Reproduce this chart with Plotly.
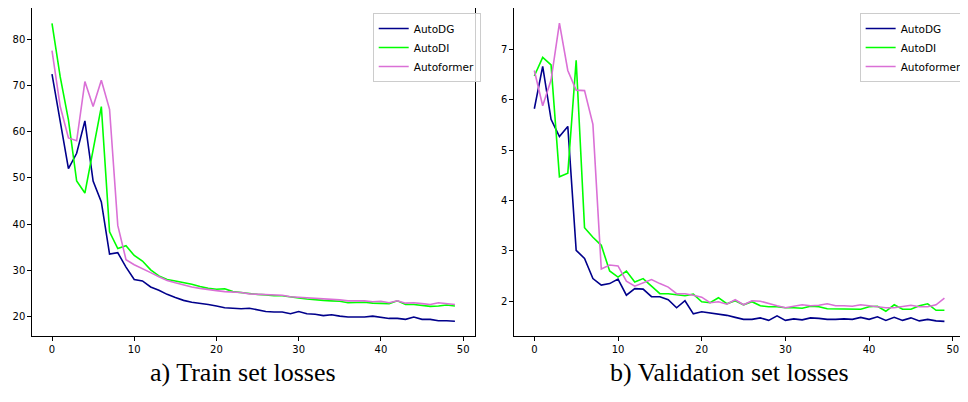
import plotly.graph_objects as go
from plotly.subplots import make_subplots

epochs = list(range(50))

train_autodg = [72.4, 62.2, 52.0, 55.3, 62.3, 49.3, 44.8, 33.5, 33.8, 30.7,
                28.0, 27.7, 26.4, 25.7, 24.8, 24.1, 23.5, 23.1, 22.9, 22.6,
                22.3, 21.9, 21.8, 21.7, 21.8, 21.4, 21.1, 21.0, 21.0, 20.6,
                21.1, 20.6, 20.5, 20.2, 20.4, 20.1, 19.9, 19.9, 19.9, 20.1,
                19.9, 19.6, 19.6, 19.4, 19.9, 19.4, 19.4, 19.1, 19.1, 19.0]
train_autodi = [83.4, 71.8, 62.5, 49.3, 46.7, 56.0, 65.4, 38.3, 34.7, 35.3,
                33.2, 32.0, 30.1, 28.8, 28.0, 27.7, 27.4, 27.0, 26.5, 26.1,
                25.9, 26.0, 25.4, 25.2, 24.9, 24.8, 24.7, 24.5, 24.5, 24.2,
                24.0, 23.8, 23.6, 23.5, 23.4, 23.3, 23.0, 23.0, 23.1, 22.9,
                22.8, 22.8, 23.4, 22.6, 22.6, 22.4, 22.2, 22.3, 22.5, 22.3]
train_autoformer = [77.5, 65.4, 58.6, 58.0, 70.8, 65.4, 71.1, 64.8, 39.7, 32.3,
                    31.2, 30.4, 29.5, 28.6, 27.8, 27.3, 26.8, 26.4, 26.1, 25.8,
                    25.6, 25.4, 25.3, 25.2, 24.9, 24.8, 24.7, 24.6, 24.6, 24.3,
                    24.2, 24.0, 24.0, 23.8, 23.7, 23.6, 23.4, 23.4, 23.4, 23.2,
                    23.3, 23.0, 23.4, 22.9, 23.0, 22.8, 22.6, 23.0, 22.8, 22.6]

val_autodg = [5.82, 6.66, 5.61, 5.27, 5.47, 3.01, 2.85, 2.45, 2.32, 2.35,
              2.44, 2.12, 2.25, 2.24, 2.09, 2.09, 2.03, 1.87, 2.01, 1.75,
              1.79, 1.77, 1.75, 1.72, 1.68, 1.64, 1.64, 1.67, 1.62, 1.71,
              1.62, 1.65, 1.63, 1.67, 1.66, 1.64, 1.64, 1.65, 1.64, 1.68,
              1.64, 1.69, 1.62, 1.68, 1.62, 1.67, 1.61, 1.64, 1.61, 1.60]
val_autodi = [6.47, 6.84, 6.69, 4.47, 4.54, 6.78, 3.46, 3.27, 3.11, 2.60,
              2.48, 2.60, 2.38, 2.45, 2.30, 2.15, 2.15, 2.13, 2.11, 2.14,
              1.99, 1.97, 2.07, 1.95, 2.01, 1.93, 1.99, 1.91, 1.89, 1.89,
              1.87, 1.87, 1.86, 1.90, 1.89, 1.85, 1.85, 1.85, 1.85, 1.84,
              1.89, 1.90, 1.80, 1.93, 1.84, 1.84, 1.91, 1.95, 1.82, 1.82]
val_autoformer = [6.58, 5.88, 6.39, 7.52, 6.58, 6.19, 6.18, 5.51, 2.64, 2.72,
                  2.70, 2.40, 2.30, 2.36, 2.43, 2.35, 2.28, 2.15, 2.15, 2.12,
                  2.08, 1.97, 1.99, 1.94, 2.03, 1.93, 2.01, 2.00, 1.95, 1.91,
                  1.87, 1.90, 1.93, 1.91, 1.92, 1.95, 1.91, 1.91, 1.90, 1.93,
                  1.91, 1.89, 1.87, 1.87, 1.89, 1.92, 1.89, 1.89, 1.93, 2.06]

series_names = ["AutoDG", "AutoDI", "Autoformer"]
colors = ["#00008B", "#00FF00", "#DA70D6"]
captions = ["a) Train set losses", "b) Validation set losses"]

# The page body adds an 8px margin, so the figure is 8px smaller than the window
W, H = 960, 394
M_TOP, M_BOT = 0, 66
plot_h = H - M_TOP - M_BOT

fig = make_subplots(rows=1, cols=2, horizontal_spacing=0.0)

for vals, name, col in zip([train_autodg, train_autodi, train_autoformer], series_names, colors):
    fig.add_trace(go.Scatter(x=epochs, y=vals, mode="lines", name=name,
                             line=dict(color=col, width=1.6), legend="legend"), row=1, col=1)
for vals, name, col in zip([val_autodg, val_autodi, val_autoformer], series_names, colors):
    fig.add_trace(go.Scatter(x=epochs, y=vals, mode="lines", name=name,
                             line=dict(color=col, width=1.6), legend="legend2"), row=1, col=2)

axis_common = dict(showline=True, linecolor="black", linewidth=1, mirror=True,
                   ticks="outside", ticklen=3.5, tickwidth=0.8, tickcolor="black",
                   showgrid=False, zeroline=False,
                   tickfont=dict(family="DejaVu Sans", size=10, color="black"))

fig.update_xaxes(**axis_common, dtick=10, tick0=0)
fig.update_yaxes(**axis_common)

fig.update_layout(
    xaxis=dict(domain=[24 / W, 470 / W], range=[-2.45, 51.45]),
    xaxis2=dict(domain=[509 / W, 1.0], range=[-2.45, 51.1]),
    yaxis=dict(range=[15.8, 86.7], dtick=10),
    yaxis2=dict(range=[1.31, 7.82], dtick=1),
)

legend_style = dict(font=dict(family="DejaVu Sans", size=10.5, color="black"),
                    bgcolor="rgba(255,255,255,0.8)", bordercolor="#cccccc", borderwidth=1,
                    xanchor="left", yanchor="top", tracegroupgap=0, itemwidth=30)
fig.update_layout(
    width=W, height=H,
    margin=dict(l=0, r=0, t=M_TOP, b=M_BOT),
    paper_bgcolor="white", plot_bgcolor="white",
    showlegend=True,
    legend=dict(x=367 / W, y=1 - 5 / plot_h, **legend_style),
    legend2=dict(x=857 / W, y=1 - 5 / plot_h, **legend_style),
)

for cap, cx in zip(captions, [236, 726]):
    fig.add_annotation(text=cap, x=cx / W, y=(plot_h - 364) / plot_h,
                       xref="paper", yref="paper", showarrow=False,
                       xanchor="center", yanchor="middle",
                       font=dict(family="Liberation Serif", size=26, color="black"))

fig.write_html("out.html")
